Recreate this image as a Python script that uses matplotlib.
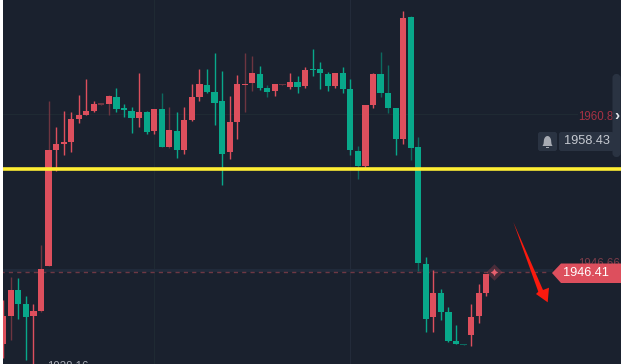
import matplotlib
matplotlib.use("Agg")
import matplotlib.pyplot as plt
from matplotlib.patches import Polygon, Rectangle, FancyBboxPatch
from matplotlib.transforms import Affine2D
import numpy as np

opens = [1939.80,1942.37,1944.78,1943.44,1942.37,1942.80,1946.98,1957.60,1958.18,1958.36,
         1960.44,1960.78,1961.20,1961.75,1961.79,1962.49,1961.42,1961.18,1960.51,1961.09,
         1959.34,1961.36,1957.90,1959.34,1957.63,1960.35,1962.49,1963.56,1962.92,1962.09,
         1957.42,1960.14,1963.56,1963.75,1964.57,1963.29,1963.01,1963.56,1963.38,1963.86,
         1963.50,1965.03,1965.03,1964.57,1963.50,1964.66,1963.20,1957.53,1956.16,1961.73,
         1964.57,1962.83,1961.45,1958.61,1969.80,1957.85,1947.17,1942.28,1944.51,1942.71,
         1940.10,1939.83,1940.63,1942.37,1944.45]
closes = [1942.37,1944.78,1943.44,1942.31,1942.83,1946.68,1957.60,1958.18,1958.33,1960.42,
          1960.84,1961.15,1961.85,1961.88,1962.55,1961.36,1961.24,1960.51,1961.09,1959.28,
          1961.36,1957.90,1959.41,1957.63,1960.35,1962.46,1963.65,1962.92,1961.94,1957.26,
          1960.14,1963.65,1963.65,1964.66,1963.29,1962.92,1963.65,1963.65,1963.86,1963.38,
          1964.94,1964.94,1964.66,1963.50,1964.66,1963.20,1957.63,1956.16,1961.73,1964.57,
          1962.83,1961.45,1958.61,1969.71,1957.81,1947.21,1942.12,1944.51,1942.71,1940.10,
          1939.80,1939.74,1942.28,1944.45,1946.25]
highs = [1943.84,1945.95,1945.86,1944.18,1943.47,1948.88,1962.09,1959.71,1961.20,1961.09,
         1962.64,1964.11,1962.09,1961.88,1962.64,1963.29,1961.82,1961.52,1964.66,1961.15,
         1961.36,1962.86,1961.57,1961.09,1961.52,1963.65,1965.03,1965.03,1966.50,1964.85,
         1962.55,1964.48,1966.50,1966.22,1965.31,1963.56,1963.65,1963.65,1964.66,1964.39,
         1965.21,1966.86,1965.67,1964.75,1964.66,1965.21,1964.11,1957.97,1961.73,1964.66,
         1966.59,1965.40,1961.45,1970.35,1969.89,1958.82,1947.78,1946.59,1944.85,1943.17,
         1941.54,1939.83,1943.50,1945.31,1946.25]
lows = [1938.52,1940.17,1942.12,1938.36,1937.97,1942.74,1946.96,1955.70,1957.17,1957.42,
        1960.10,1960.78,1961.09,1961.75,1960.81,1961.11,1960.63,1959.16,1959.74,1959.07,
        1959.07,1957.90,1957.81,1956.89,1957.26,1960.26,1962.09,1962.83,1959.89,1954.39,
        1956.75,1958.61,1961.11,1963.01,1963.10,1962.46,1962.55,1963.56,1963.20,1962.83,
        1963.29,1964.39,1963.20,1963.01,1963.29,1962.83,1957.14,1954.94,1955.98,1961.45,
        1962.46,1960.99,1957.14,1958.12,1956.68,1946.50,1940.93,1940.93,1942.00,1939.98,
        1939.80,1939.74,1939.62,1941.73,1944.20]
muted = [1,5,6,13,14,21,22,32,33,35,37,47,50,51,54,55,61]

last_price = 1946.41
prev_close_label = "1946.66"
level_price = 1955.86
alert_price = "1958.43"
high_label = "1960.83"
low_label = "1938.16"

RED, GREEN = "#dd4f5d", "#08a88a"
DRED, DGREEN = "#6d3540", "#0c6a60"
W, H = 621, 364

fig = plt.figure(figsize=(W/100, H/100), dpi=100, facecolor="white")
ax = fig.add_axes([0, 0, 1, 1])
ax.set_facecolor("#1a212e")
# axis scale: 7.545 px per bar, 10.9 px per price unit
ax.set_xlim(-3.3/7.545, (W-3.3)/7.545)
ax.set_ylim(1937.97, 1971.36)
ax.axis("off")
fig.patch.set_facecolor("#1a212e")

px = Affine2D().scale(1/W, -1/H).translate(0, 1) + ax.transAxes

# faint crosshair grid
ax.add_patch(Rectangle((153.5, 0), 1.2, H, transform=px, fc="#1f2a33", ec="none", zorder=1))
ax.add_patch(Rectangle((349.5, 0), 1.6, H, transform=px, fc="#232b3a", ec="none", zorder=1))
ax.add_patch(Rectangle((3, 113.6), 575, 1, transform=px, fc="#1f2a33", ec="none", zorder=1))
ax.add_patch(Rectangle((3, 269), 550, 3.4, transform=px, fc="#202a3a", ec="none", zorder=1))
ax.hlines(last_price, -3.3/7.545, 72, colors="#6e3844", linewidth=1, linestyles=(0, (3, 3)), zorder=1.5)

idx = np.arange(len(opens))
for i, (o, c, h, l) in enumerate(zip(opens, closes, highs, lows)):
    up = c >= o
    base = RED if up else GREEN
    wick = (DRED if up else DGREEN) if i in muted else base
    ax.vlines(i, l, h, colors=wick, linewidth=1.0, zorder=2)
    body = DRED if (i in (13, 37, 61) and up) else (DGREEN if i == 61 else base)
    ax.bar(i, max(abs(c-o), 0.1), 0.82, bottom=min(o, c), color=body, linewidth=0, zorder=3)

# yellow level line
ax.axhline(level_price, color="#ffee33", linewidth=2.6, zorder=4)

# last-price glow marker
ax.scatter([65], [last_price], s=70, color=RED, alpha=.25, marker="D", linewidth=0, zorder=5)
ax.scatter([65], [last_price], s=30, color="#e8606e", marker=(4, 1, 0), linewidth=0, zorder=5)

# left white margin
ax.add_patch(Rectangle((0, 0), 3, H, transform=px, fc="white", ec="none", zorder=9))

font = "Liberation Sans"
# faded labels
ax.text(578, 116.5, high_label, transform=px, color="#a63244", fontsize=8.3, family=font,
        va="center", ha="left", zorder=5.5, clip_on=True)
ax.text(578, 264, prev_close_label, transform=px, color="#7d3c49", fontsize=8.3, family=font,
        va="center", ha="left", zorder=5)
ax.text(37, 366.5, "\u2014", transform=px, color="#a5a9b2", fontsize=7, family=font,
        va="center", ha="left", zorder=6, clip_on=True)
ax.text(47, 367, low_label, transform=px, color="#a5a9b2", fontsize=8.3, family=font,
        va="center", ha="left", zorder=6, clip_on=True)

# scrollbar and alert buttons
ax.add_patch(FancyBboxPatch((613.5, 75), 6, 81, boxstyle="round,pad=0,rounding_size=3", transform=px,
                            fc="#2a3342", ec="#2a3342", lw=1.5, zorder=6))
ax.text(617, 116, "\u203a", transform=px, color="#e6e8ec", fontsize=11, family=font, fontweight="bold",
        ha="center", va="center", zorder=7)
for x0, wd in ((538, 19), (559, 55)):
    ax.add_patch(FancyBboxPatch((x0+1, 133), wd-2, 17, boxstyle="round,pad=0,rounding_size=1.5", transform=px,
                                fc="#2a3342", ec="#2a3342", lw=1.5, zorder=7))
ax.text(586.5, 141.5, alert_price, transform=px, color="#c6cad1", fontsize=9.2, family=font,
        ha="center", va="center", zorder=8)
# bell
t = np.linspace(0, np.pi, 20)
bell = [(542.5, 146), (543.5, 144)] + [(547.5 - 3.7*np.cos(a), 141.5 - 5.5*np.sin(a)) for a in t] + [(551.5, 144), (552.5, 146)]
ax.add_patch(Polygon(bell, closed=True, transform=px, fc="#a7abb3", ec="none", zorder=8))
ax.add_patch(Rectangle((546, 146.5), 3, 1.8, transform=px, fc="#a7abb3", ec="none", zorder=8))

# last price tag
ax.add_patch(Polygon([(552, 273), (561, 263.5), (621, 263.5), (621, 283), (561, 283)], closed=True,
                     transform=px, fc=RED, ec="none", zorder=7))
ax.text(586, 273.5, f"{last_price:.2f}", transform=px, color="white", fontsize=9.2, family=font,
        ha="center", va="center", zorder=8)

# hand-drawn red arrow
ax.add_patch(Polygon([(513.3, 222), (543, 290), (549, 287.7), (547.7, 302.3), (536, 294), (538.3, 291.7)],
                     closed=True, transform=px, fc="#fb1a0e", ec="none", zorder=10))

fig.savefig("out.png", dpi=100)
